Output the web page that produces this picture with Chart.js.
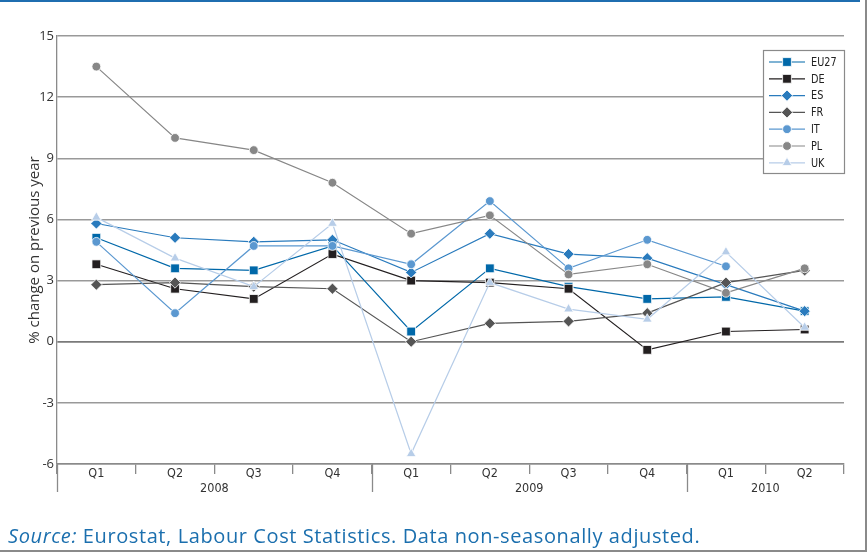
<!DOCTYPE html>
<html><head><meta charset="utf-8">
<script src="https://cdn.jsdelivr.net/npm/chart.js"></script>
<style>
html,body{margin:0;padding:0;background:#fff;}
#wrap{position:relative;width:868px;height:552px;overflow:hidden;background:#fff;}
#c{position:absolute;left:0;top:0;}
#topline{position:absolute;left:0;top:0;width:860px;height:2px;background:#1f6eb0;}
#rline{position:absolute;left:865px;top:0;width:2px;height:552px;background:#8a8a8a;}
#bline{position:absolute;left:0;top:550px;width:867px;height:2px;background:#8a8a8a;}
#src{position:absolute;left:8px;top:522px;font:20px 'Open Sans',sans-serif;letter-spacing:0.6px;color:#1b6fae;white-space:nowrap;}
</style></head>
<body>
<div id="wrap">
<canvas id="c" width="868" height="552"></canvas>
<div id="topline"></div><div id="rline"></div><div id="bline"></div>
<div id="src"><i>Source:</i> Eurostat, Labour Cost Statistics. Data non-seasonally adjusted.</div>
</div>
<script>
const quarters = ['Q1','Q2','Q3','Q4','Q1','Q2','Q3','Q4','Q1','Q2'];
const yearLabels = ['2008','2009','2010'];
const quartersPerYear = [4,4,2];
const yTicks = [-6,-3,0,3,6,9,12,15];
const seriesNames = ['EU27','DE','ES','FR','IT','PL','UK'];
const EU27 = [5.1,3.6,3.5,4.7,0.5,3.6,2.7,2.1,2.2,1.5];
const DE   = [3.8,2.6,2.1,4.3,3.0,2.9,2.6,-0.4,0.5,0.6];
const ES   = [5.8,5.1,4.9,5.0,3.4,5.3,4.3,4.1,2.8,1.5];
const FR   = [2.8,2.9,2.7,2.6,0.0,0.9,1.0,1.4,2.9,3.5];
const IT   = [4.9,1.4,4.7,4.7,3.8,6.9,3.6,5.0,3.7,null];
const PL   = [13.5,10.0,9.4,7.8,5.3,6.2,3.3,3.8,2.4,3.6];
const UK   = [6.1,4.1,2.7,5.8,-5.5,2.9,1.6,1.1,4.4,0.7];
const seriesValues = [EU27,DE,ES,FR,IT,PL,UK];

const styles = [
  {color:'#0068a9', point:'rect', r:6.2},
  {color:'#231f20', point:'rect', r:6.2},
  {color:'#2a7bbd', point:'rectRot', r:5.6},
  {color:'#555555', point:'rectRot', r:5.6},
  {color:'#5b98d0', point:'circle', r:4.4},
  {color:'#878787', point:'circle', r:4.4},
  {color:'#b7cde8', point:'triangle', r:5.6}
];

const narrow = "'Liberation Sans Narrow','DejaVu Sans Condensed',sans-serif";

const datasets = seriesNames.map((n,i)=>({
  label:n,
  data:seriesValues[i],
  borderColor:styles[i].color,
  backgroundColor:styles[i].color,
  pointBackgroundColor:styles[i].color,
  pointBorderColor:'#ffffff',
  pointBorderWidth:0.8,
  pointStyle:styles[i].point,
  pointRadius:styles[i].r,
  pointHoverRadius:styles[i].r,
  borderWidth:1.2,
  tension:0,
  spanGaps:false,
  order:seriesNames.length-i
}));

function drawMarker(ctx, style, r, x, y){
  ctx.beginPath();
  if(style==='rect'){ const s=Math.SQRT1_2*r; ctx.rect(x-s,y-s,2*s,2*s); }
  else if(style==='rectRot'){ ctx.moveTo(x,y-r); ctx.lineTo(x+r,y); ctx.lineTo(x,y+r); ctx.lineTo(x-r,y); ctx.closePath(); }
  else if(style==='circle'){ ctx.arc(x,y,r,0,Math.PI*2); }
  else if(style==='triangle'){ ctx.moveTo(x,y-r); ctx.lineTo(x+r*0.866,y+r*0.5); ctx.lineTo(x-r*0.866,y+r*0.5); ctx.closePath(); }
  ctx.fill(); ctx.stroke();
}

const overlay = {
  id:'overlay',
  afterDraw(chart){
    const {ctx, chartArea:a} = chart;
    const x = chart.scales.x;
    const step = x.getPixelForValue(1)-x.getPixelForValue(0);
    ctx.save();
    ctx.strokeStyle='#8a8a8a'; ctx.lineWidth=1.3;
    ctx.font = "12.5px "+narrow;
    ctx.fillStyle='#333'; ctx.textAlign='center'; ctx.textBaseline='middle';
    let idx=0;
    yearLabels.forEach((yl,k)=>{
      const x0 = x.getPixelForValue(idx)-step/2;
      const x1 = x.getPixelForValue(idx+quartersPerYear[k]-1)+step/2;
      ctx.beginPath(); ctx.moveTo(Math.round(x0)+0.5,a.bottom); ctx.lineTo(Math.round(x0)+0.5,a.bottom+28); ctx.stroke();
      ctx.fillText(yl,(x0+x1)/2,a.bottom+25);
      idx+=quartersPerYear[k];
    });
    // legend
    const lw=81, lh=123, lx=a.right-lw, ly=a.top+14;
    ctx.fillStyle='#fff'; ctx.fillRect(lx,ly,lw,lh);
    ctx.strokeStyle='#8a8a8a'; ctx.lineWidth=1.2; ctx.strokeRect(lx+0.5,ly+0.5,lw,lh);
    ctx.font = "13px "+narrow; ctx.textAlign='left'; ctx.textBaseline='middle';
    seriesNames.forEach((n,i)=>{
      const cy = ly+12+i*16.8;
      ctx.strokeStyle=styles[i].color; ctx.lineWidth=1.2;
      ctx.beginPath(); ctx.moveTo(lx+6,cy); ctx.lineTo(lx+42,cy); ctx.stroke();
      ctx.fillStyle=styles[i].color; ctx.strokeStyle='#fff'; ctx.lineWidth=0.8;
      drawMarker(ctx, styles[i].point, styles[i].r, lx+24, cy);
      ctx.save();
      ctx.translate(lx+48, cy+0.5); ctx.scale(0.83,1);
      ctx.fillStyle='#222'; ctx.fillText(n, 0, 0);
      ctx.restore();
    });
    ctx.restore();
  }
};

new Chart(document.getElementById('c'), {
  type:'line',
  data:{labels:quarters, datasets},
  options:{
    responsive:false, animation:false,
    layout:{padding:{top:36,right:24,left:0,bottom:0}},
    plugins:{legend:{display:false}, tooltip:{enabled:false}},
    scales:{
      x:{
        offset:true,
        grid:{display:true, offset:true, drawOnChartArea:false, drawTicks:true, tickLength:10, color:'#8a8a8a', lineWidth:1.3},
        border:{display:true, color:'#8a8a8a', width:1.5},
        ticks:{padding:-8, color:'#333', font:{family:narrow, size:12.5}, maxRotation:0, autoSkip:false},
        afterFit(s){ s.height = 88; }
      },
      y:{
        min:-6, max:15,
        afterBuildTicks(s){ s.ticks = yTicks.map(v=>({value:v})); },
        grid:{color:(c)=> c.tick && c.tick.value===0 ? '#7a7a7a' : '#999999', lineWidth:(c)=> c.tick && c.tick.value===0 ? 1.8 : 1.4, drawTicks:false},
        border:{display:true, color:'#8a8a8a', width:1.3},
        ticks:{padding:3, color:'#333', font:{family:"'Open Sans',sans-serif", size:13}},
        title:{display:true, text:'% change on previous year', color:'#333', font:{family:"'Open Sans',sans-serif", size:15}, padding:{top:26,bottom:0}},
        afterFit(s){ s.width = 57; }
      }
    }
  },
  plugins:[overlay]
});
</script>
</body></html>
